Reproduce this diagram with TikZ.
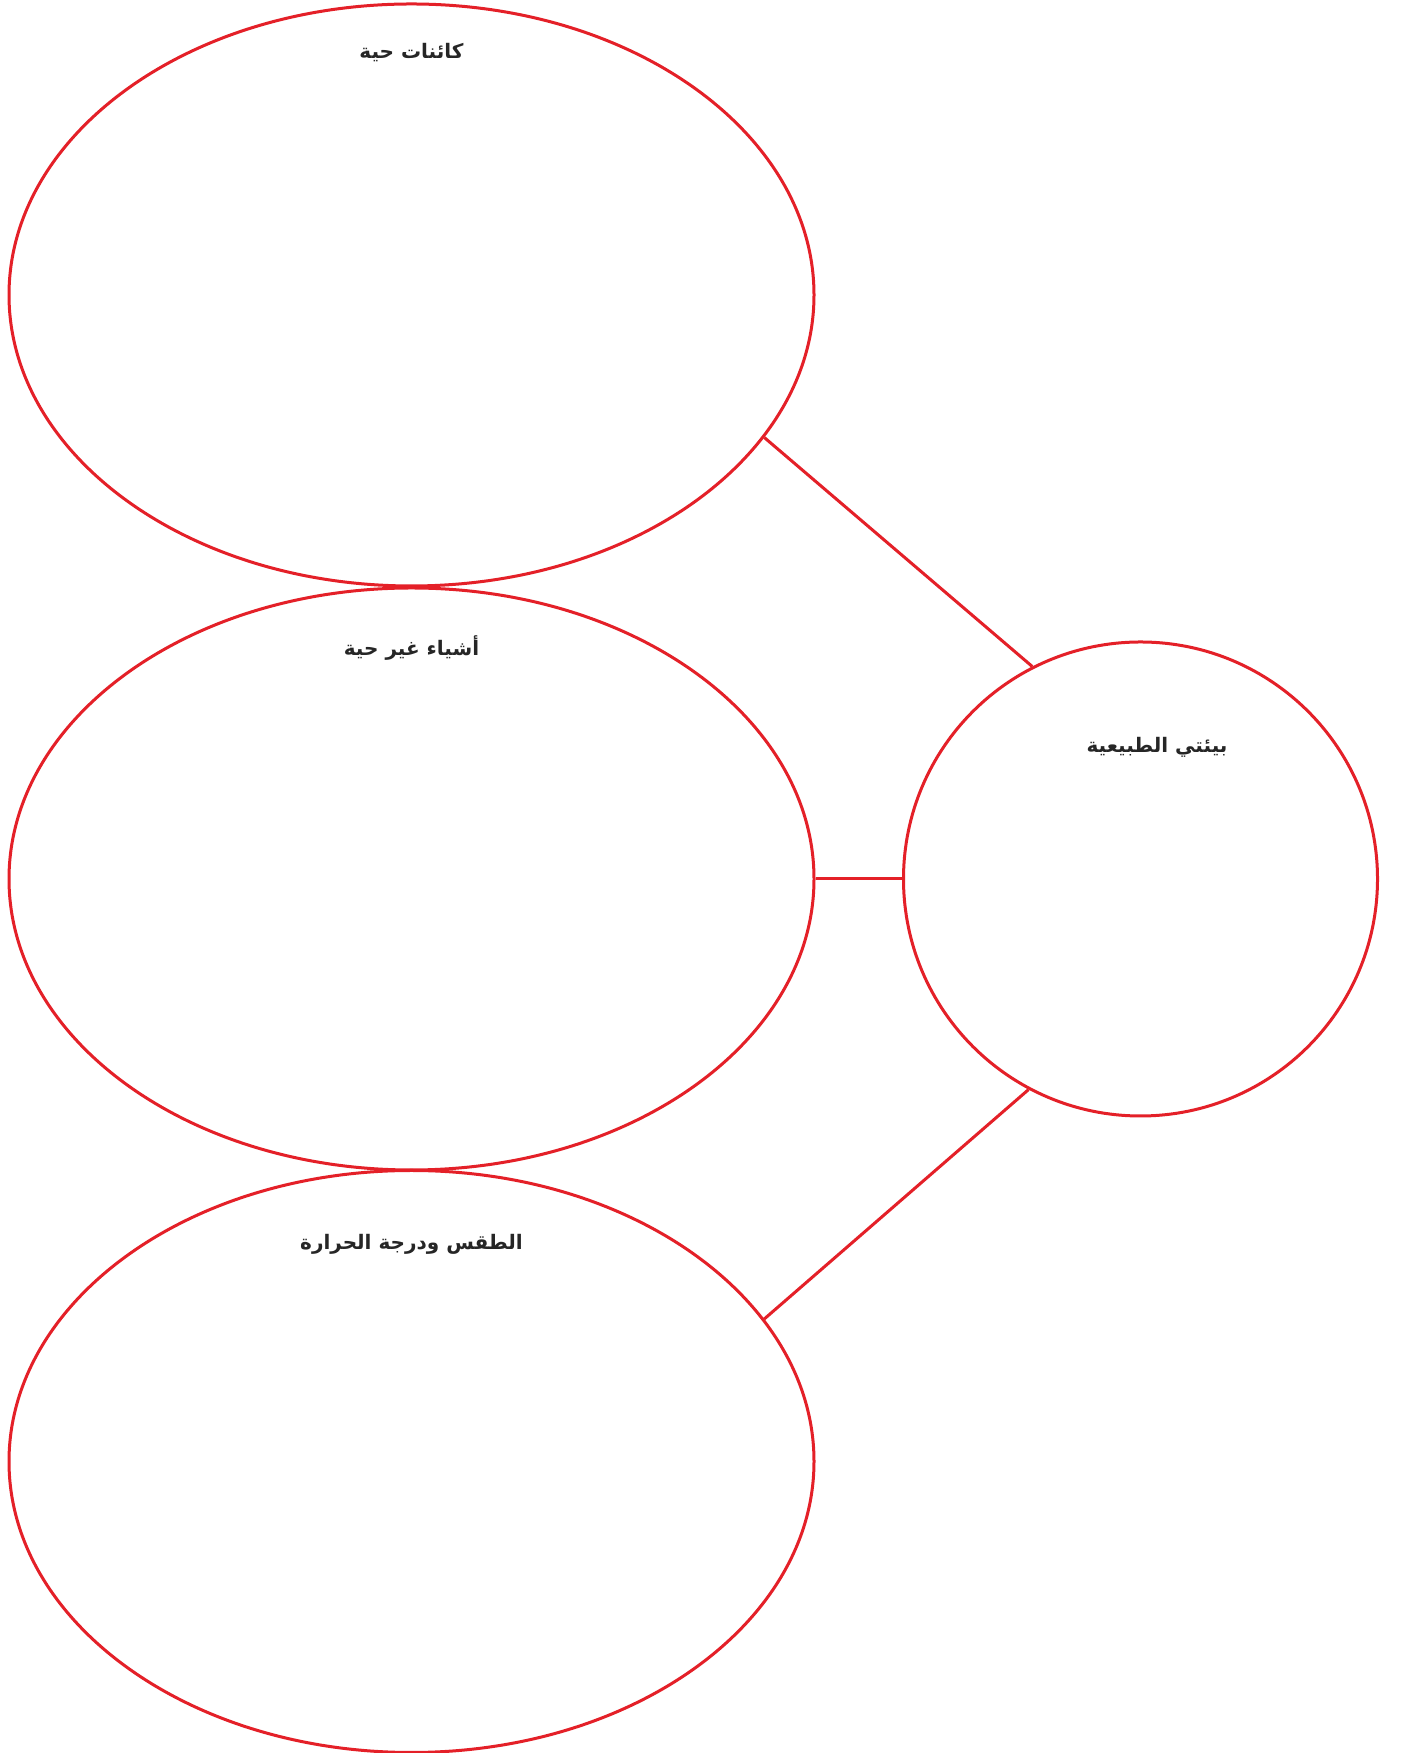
\documentclass[tikz,border=0pt]{standalone}
\usepackage{fontspec}
\TeXXeTstate=1
\newfontfamily\arabicfont[Script=Arabic]{DejaVu Sans}
\usetikzlibrary{shapes.geometric}
\definecolor{linered}{RGB}{228,32,40}
\tikzset{
  bubble/.style={ellipse, draw=linered, line width=3pt, minimum width=805pt, minimum height=582pt, inner sep=0pt},
  hub/.style={circle, draw=linered, line width=3pt, minimum size=474pt, inner sep=0pt},
  link/.style={draw=linered, line width=3pt},
  lbl/.style={font=\arabicfont\bfseries\fontsize{20}{24}\selectfont, text=black!85}
}
\begin{document}
\begin{tikzpicture}[x=1pt,y=1pt]
\useasboundingbox[fill=white] (0,0) rectangle (1400,1753);
\node[bubble] (e1) at (411.5,1458) {};
\node[bubble] (e2) at (411.5,874) {};
\node[bubble] (e3) at (411.5,291.5) {};
\node[hub] (c) at (1140.5,874) {};
\draw[link] (e1.-22) -- (c.117);
\draw[link] (e2.0) -- (c.180);
\draw[link] (e3.22) -- (c.242);
\node[lbl] (t1) at (411.5,1700.5) {\beginR كائنات حية\endR};
\node[lbl] (t2) at (411.5,1104.5) {\beginR أشياء غير حية\endR};
\node[lbl] (t3) at (411.5,508.5) {\beginR الطقس ودرجة الحرارة\endR};
\node[lbl] (t4) at (1157,1006) {\beginR بيئتي الطبيعية\endR};
\end{tikzpicture}
\end{document}
